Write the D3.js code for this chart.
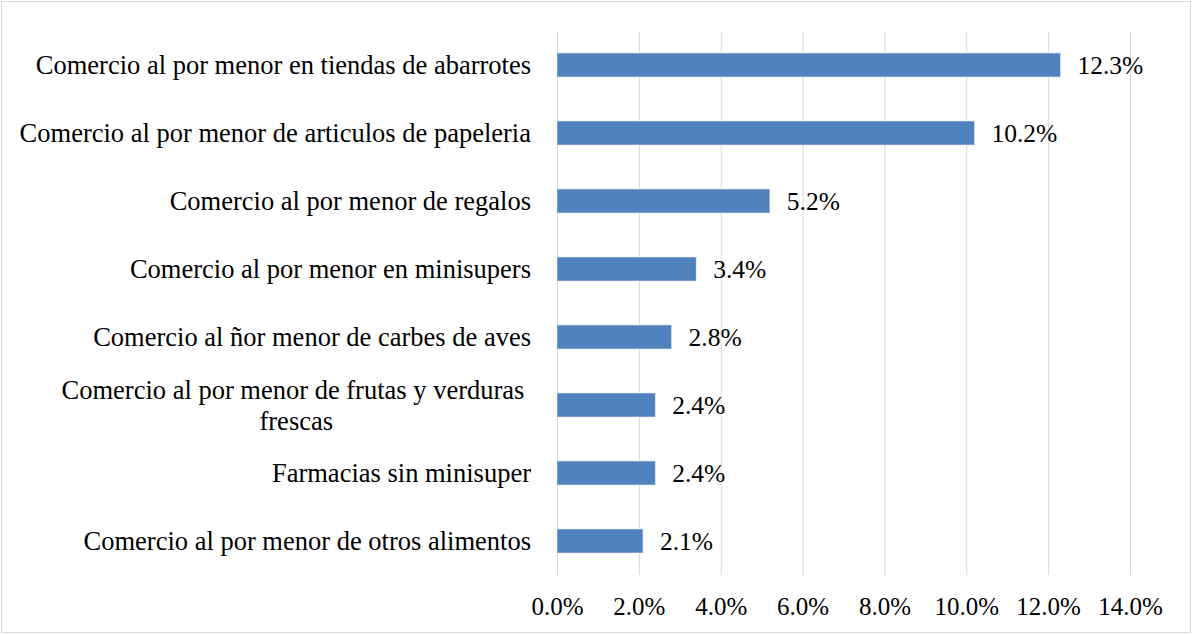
<!DOCTYPE html>
<html>
<head>
<meta charset="utf-8">
<script src="https://cdn.jsdelivr.net/npm/d3@7"></script>
<style>
  body { margin: 0; background: #fff; }
  svg text { font-family: "Liberation Serif", "Times New Roman", serif; fill: #000; }
</style>
</head>
<body>
<svg id="chart"></svg>
<script>
const categories = [
    ["Comercio al por menor en tiendas de abarrotes"],
    ["Comercio al por menor de articulos de papeleria"],
    ["Comercio al por menor de regalos"],
    ["Comercio al por menor en minisupers"],
    ["Comercio al ñor menor de carbes de aves"],
    ["Comercio al por menor de frutas y verduras ", "frescas"],
    ["Farmacias sin minisuper"],
    ["Comercio al por menor de otros alimentos"]
];
const values = [12.3, 10.2, 5.2, 3.4, 2.8, 2.4, 2.4, 2.1];
const tickValues = [0, 2, 4, 6, 8, 10, 12, 14];

const width = 1193, height = 635;
const margin = { top: 31, right: 63, bottom: 60, left: 557 };

const svg = d3.select("#chart")
    .attr("width", width)
    .attr("height", height);

// outer frame
svg.append("rect")
    .attr("x", 1.5).attr("y", 1.5)
    .attr("width", width - 4).attr("height", height - 4)
    .attr("fill", "none")
    .attr("stroke", "#d9d9d9")
    .attr("stroke-width", 1);

const xScale = d3.scaleLinear().domain([0, 14]).range([margin.left, width - margin.right]);
const yScale = d3.scaleBand()
    .domain(d3.range(categories.length))
    .range([margin.top, height - margin.bottom])
    .paddingInner(0.647)
    .paddingOuter(0.3235);

// gridlines
svg.append("g")
    .selectAll("line")
    .data(tickValues)
    .join("line")
    .attr("x1", d => xScale(d) + 0.5)
    .attr("x2", d => xScale(d) + 0.5)
    .attr("y1", margin.top + 1)
    .attr("y2", height - margin.bottom)
    .attr("stroke", "#d9d9d9")
    .attr("stroke-width", 1);

// x axis labels
const xAxis = d3.axisBottom(xScale)
    .tickValues(tickValues)
    .tickSize(0)
    .tickPadding(22)
    .tickFormat(d => d.toFixed(1) + "%");

const gx = svg.append("g")
    .attr("transform", `translate(0,${height - margin.bottom})`)
    .call(xAxis);
gx.select(".domain").remove();
gx.selectAll("text")
    .style("font-family", '"Liberation Serif", "Times New Roman", serif')
    .attr("font-size", "25px")
    .attr("fill", "#000");

// bars
svg.append("g")
    .selectAll("rect")
    .data(values)
    .join("rect")
    .attr("x", xScale(0))
    .attr("y", (d, i) => yScale(i))
    .attr("width", d => xScale(d) - xScale(0))
    .attr("height", yScale.bandwidth())
    .attr("fill", "#4f81bd")
    .attr("stroke", "#dce6f2")
    .attr("stroke-width", 0.6);

// value labels
svg.append("g")
    .selectAll("text")
    .data(values)
    .join("text")
    .attr("x", d => xScale(d) + 17)
    .attr("y", (d, i) => yScale(i) + yScale.bandwidth() / 2)
    .attr("dy", "0.35em")
    .attr("font-size", "25.5px")
    .text(d => d.toFixed(1) + "%");

// category labels (right-aligned block, lines centered inside it)
const labelRight = 531;
const lineHeight = 31;
categories.forEach((lines, i) => {
    const cy = yScale(i) + yScale.bandwidth() / 2;
    const g = svg.append("g");
    const texts = lines.map((line, j) => g.append("text")
        .attr("font-size", "26.5px")
        .attr("xml:space", "preserve")
        .style("white-space", "pre")
        .attr("y", cy + (j - (lines.length - 1) / 2) * lineHeight)
        .attr("dy", "0.35em")
        .text(line));
    const blockWidth = d3.max(texts, t => t.node().getComputedTextLength());
    const center = labelRight - blockWidth / 2;
    texts.forEach(t => t.attr("x", center).attr("text-anchor", "middle"));
});
</script>
</body>
</html>
